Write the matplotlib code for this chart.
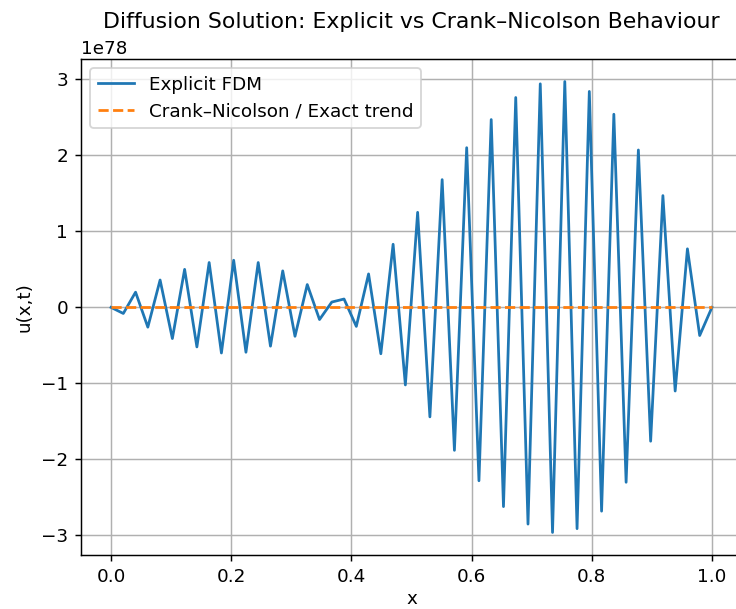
import numpy as np
import matplotlib
matplotlib.use("Agg")
import matplotlib.pyplot as plt

n_points = 50
x = np.linspace(0.0, 1.0, n_points)

explicit_fdm = [
    0.00, -0.08, 0.20, -0.26, 0.36, -0.41, 0.50, -0.52, 0.59, -0.60,
    0.62, -0.59, 0.59, -0.51, 0.48, -0.38, 0.30, -0.16, 0.07, 0.11,
    -0.25, 0.44, -0.61, 0.83, -1.02, 1.25, -1.44, 1.68, -1.88, 2.10,
    -2.28, 2.47, -2.62, 2.76, -2.85, 2.94, -2.96, 2.97, -2.91, 2.84,
    -2.68, 2.54, -2.30, 2.07, -1.76, 1.47, -1.10, 0.77, -0.37, 0.00,
]
scale = 1e78
crank_nicolson = [
    0.0, 0.0, 0.0, 0.0, 0.0, 0.0, 0.0, 0.0, 0.0, 0.0,
    0.0, 0.0, 0.0, 0.0, 0.0, 0.0, 0.0, 0.0, 0.0, 0.0,
    0.0, 0.0, 0.0, 0.0, 0.0, 0.0, 0.0, 0.0, 0.0, 0.0,
    0.0, 0.0, 0.0, 0.0, 0.0, 0.0, 0.0, 0.0, 0.0, 0.0,
    0.0, 0.0, 0.0, 0.0, 0.0, 0.0, 0.0, 0.0, 0.0, 0.0,
]

DPI = 132
fig = plt.figure(figsize=(736 / DPI, 609 / DPI), dpi=DPI)
ax = fig.add_axes([81 / 736, (609 - 555) / 609, (742 - 81) / 736, (555 - 59) / 609])

ax.plot(x, np.array(explicit_fdm) * scale, label="Explicit FDM")
ax.plot(x, np.array(crank_nicolson) * scale, "--", label="Crank–Nicolson / Exact trend")

ax.set_title("Diffusion Solution: Explicit vs Crank–Nicolson Behaviour")
ax.set_xlabel("x", labelpad=2.5)
ax.set_ylabel("u(x,t)")
ax.grid(True)
ax.legend(loc="upper left")

fig.savefig("out.png", dpi=DPI)
